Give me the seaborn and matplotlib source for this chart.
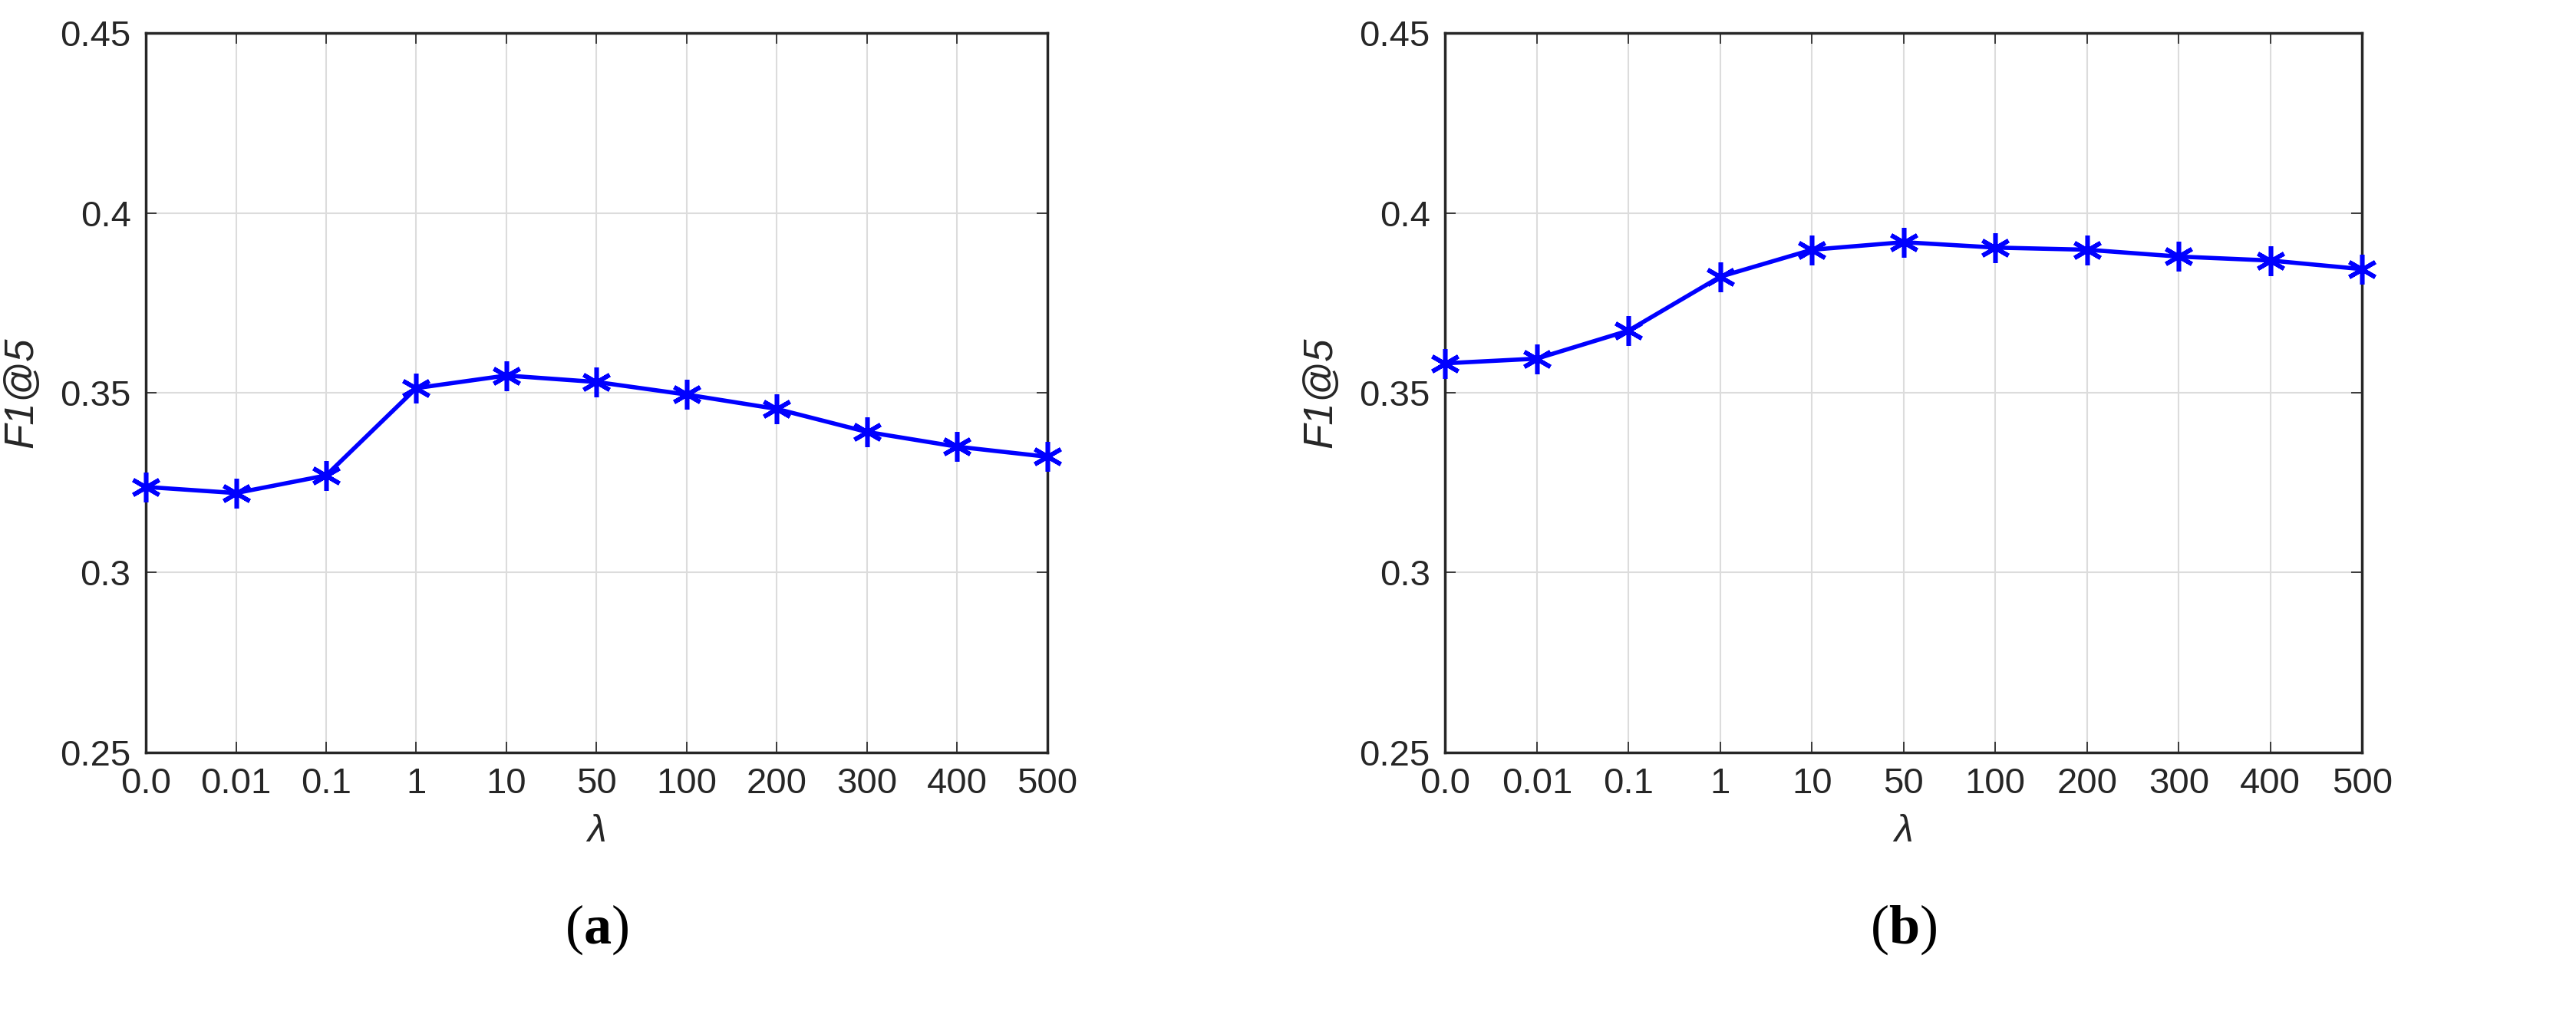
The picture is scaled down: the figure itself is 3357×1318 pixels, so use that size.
import matplotlib
matplotlib.use("Agg")
import matplotlib.pyplot as plt
import seaborn as sns
import pandas as pd

sns.set_theme(style="whitegrid")
plt.rcParams['font.family'] = ['Liberation Sans', 'DejaVu Sans']
plt.rcParams['mathtext.fontset'] = 'custom'
plt.rcParams['mathtext.rm'] = 'Liberation Serif'
plt.rcParams['mathtext.bf'] = 'Liberation Serif:bold'

lambdas = ["0.0", "0.01", "0.1", "1", "10", "50", "100", "200", "300", "400", "500"]
f1_a = [0.3238, 0.3221, 0.3270, 0.3513, 0.3548, 0.3530, 0.3495, 0.3455, 0.3391, 0.3350, 0.3322]
f1_b = [0.3582, 0.3595, 0.3673, 0.3823, 0.3898, 0.3919, 0.3904, 0.3898, 0.3879, 0.3868, 0.3844]
yticks = [0.25, 0.3, 0.35, 0.4, 0.45]
ytick_labels = ["0.25", "0.3", "0.35", "0.4", "0.45"]
panel_labels = ["a", "b"]

fig = plt.figure(figsize=(33.57, 13.18), dpi=100)
axes = [fig.add_axes([0.0566, 0.256, 0.350, 0.711]),
        fig.add_axes([0.561, 0.256, 0.356, 0.711])]

for ax, vals, lab in zip(axes, [f1_a, f1_b], panel_labels):
    df = pd.DataFrame({"x": range(len(lambdas)), "y": vals})
    sns.lineplot(data=df, x="x", y="y", ax=ax, color="#0000ff", linewidth=4,
                 marker=(6, 2, 0), markersize=28, markeredgewidth=4,
                 markeredgecolor="#0000ff", clip_on=False, zorder=5)
    ax.set_xlim(0, len(lambdas) - 1)
    ax.set_ylim(0.25, 0.45)
    ax.set_xticks(range(len(lambdas)))
    ax.set_xticklabels(lambdas)
    ax.set_yticks(yticks)
    ax.set_yticklabels(ytick_labels)
    ax.tick_params(labelsize=34, colors="#262626", direction="in", length=10,
                   top=True, right=True, bottom=True, left=True, pad=14)
    ax.grid(True, color="#dcdcdc", linewidth=1.5)
    for s in ax.spines.values():
        s.set_color("#262626")
        s.set_linewidth(2.5)
        s.set_visible(True)
    ax.set_facecolor("white")
    ax.set_xlabel("λ", fontsize=36, style="italic", color="#262626", labelpad=12)
    ax.set_ylabel("F1@5", fontsize=38, style="italic", color="#262626", labelpad=18)
    pos = ax.get_position()
    fig.text((pos.x0 + pos.x1) / 2, 0.08, r"$(\mathbf{" + lab + r"})$",
             ha="center", va="center", fontsize=52, color="black")

fig.savefig("out.png", dpi=100, facecolor="white")
